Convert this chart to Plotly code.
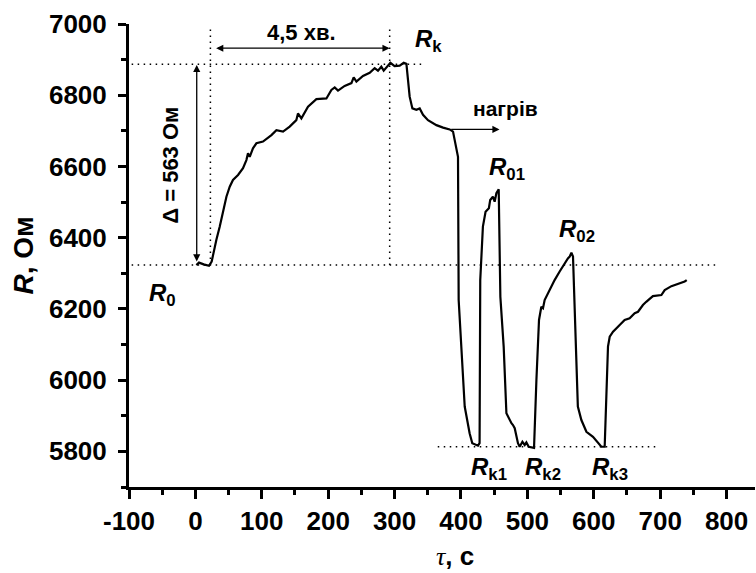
import plotly.graph_objects as go

# ---- data ----
tau = [1.5, 5.4, 12.5, 20.5, 24.5, 27.6, 31.6, 36.6, 40.7, 46.7, 51.7, 56.6, 64.2, 71.7, 76.8, 79.2, 81.8,
       86.7, 91.9, 101.8, 114.5, 122, 132, 142, 152, 154.5, 159.6, 169.6, 182.2, 197.3, 204.8, 209.8,
       214.8, 224.8, 235, 238.4, 242.5, 252.4, 262.5, 270, 275, 280, 283.6, 290, 293.7, 300, 307.7,
       313.7, 317.8, 320.2, 322.7, 326.8, 332.8, 337.8, 342.8, 350.3, 363, 373, 383, 388, 393, 395.5,
       396.5, 400.6, 405.6, 413, 417, 425.6, 428, 429, 433, 437, 442, 444, 448, 450.7, 453.3, 456.8,
       459.3, 464.3, 468.4, 476, 478.3, 480.9, 485.8, 488.4, 492.5, 496, 498.5, 502, 510, 513.6, 517.5,
       521, 523.5, 526, 531, 536, 541, 548.6, 556, 561, 563.7, 566.3, 568.7, 571, 576, 581.3, 588.9,
       598.8, 606.3, 611.4, 616.4, 621.4, 624, 629, 639, 646.5, 654, 661.6, 666.6, 674, 679, 689,
       701.8, 706.8, 716.9, 726.8, 736.9, 740]
resist = [6323, 6330, 6325, 6321, 6333, 6361, 6394, 6431, 6469, 6515, 6543, 6562, 6576, 6595, 6618, 6637,
          6627, 6651, 6665, 6670, 6688, 6702, 6698, 6712, 6730, 6749, 6735, 6768, 6789, 6791, 6815, 6822,
          6813, 6826, 6834, 6850, 6838, 6854, 6863, 6876, 6869, 6880, 6869, 6885, 6891, 6882, 6883,
          6891, 6888, 6843, 6796, 6763, 6759, 6763, 6745, 6730, 6716, 6709, 6704, 6698, 6656, 6627,
          6225, 6094, 5926, 5851, 5823, 5816, 5823, 6281, 6431, 6473, 6483, 6506, 6515, 6501, 6525, 6536,
          6234, 6094, 5907, 5879, 5874, 5865, 5823, 5813, 5827, 5818, 5825, 5813, 5810, 6001, 6169,
          6206, 6202, 6225, 6244, 6262, 6281, 6305, 6328, 6342, 6347, 6358, 6347, 6225, 5926, 5888, 5855,
          5841, 5823, 5813, 5813, 6094, 6122, 6136, 6155, 6169, 6174, 6188, 6192, 6211, 6220, 6236,
          6239, 6253, 6264, 6270, 6277, 6281]

x_ticks = [-100, 0, 100, 200, 300, 400, 500, 600, 700, 800]
x_tick_text = ["-100", "0", "100", "200", "300", "400", "500", "600", "700", "800"]
y_ticks = [5800, 6000, 6200, 6400, 6600, 6800, 7000]

# dotted guide lines
guide_x0 = [-96, -96, 22.6, 292.6, 365]
guide_x1 = [343, 789, 22.6, 292.6, 697]
guide_y0 = [6887, 6323, 6323, 6323, 5813]
guide_y1 = [6887, 6323, 6992, 6992, 5813]

# labels: text, tau, R
label_text = ["<i>R</i><sub>k</sub>", "<i>R</i><sub>0</sub>", "<i>R</i><sub>01</sub>", "<i>R</i><sub>02</sub>",
              "<i>R</i><sub>k1</sub>", "<i>R</i><sub>k2</sub>", "<i>R</i><sub>k3</sub>"]
label_tau = [327, -73, 439, 544, 411.6, 493, 594]
label_r = [6955, 6241, 6595, 6421, 5753, 5753, 5753]

FONT = "Arial, 'Liberation Sans', sans-serif"

fig = go.Figure()
fig.add_trace(go.Scatter(x=tau, y=resist, mode="lines",
                         line=dict(color="black", width=2.2), showlegend=False, hoverinfo="skip"))

shapes = []
for x0, x1, y0, y1 in zip(guide_x0, guide_x1, guide_y0, guide_y1):
    shapes.append(dict(type="line", xref="x", yref="y", x0=x0, x1=x1, y0=y0, y1=y1,
                       line=dict(color="black", width=1.5, dash="1.5px,4.5px")))

ann = []
for txt, tx, ry in zip(label_text, label_tau, label_r):
    ann.append(dict(x=tx, y=ry, xref="x", yref="y", text="<b>" + txt + "</b>", showarrow=False,
                    xanchor="left", yanchor="middle", font=dict(family=FONT, size=24, color="black")))

# arrows
ann.append(dict(x=292.5, y=6932, ax=29, ay=6932, xref="x", yref="y", axref="x", ayref="y", text="",
                showarrow=True, arrowhead=2, arrowside="end+start", arrowsize=1.1, arrowwidth=1.3,
                arrowcolor="black"))
ann.append(dict(x=2, y=6885, ax=2, ay=6329, xref="x", yref="y", axref="x", ayref="y", text="",
                showarrow=True, arrowhead=2, arrowside="end+start", arrowsize=1.1, arrowwidth=1.3,
                arrowcolor="black"))
ann.append(dict(x=458, y=6704, ax=383, ay=6704, xref="x", yref="y", axref="x", ayref="y", text="",
                showarrow=True, arrowhead=2, arrowside="end", arrowsize=1.1, arrowwidth=1.3,
                arrowcolor="black"))

ann.append(dict(x=159.6, y=6975, xref="x", yref="y", text="<b>4,5 хв.</b>", showarrow=False,
                xanchor="center", yanchor="middle", font=dict(family=FONT, size=22, color="black")))
ann.append(dict(x=467, y=6764, xref="x", yref="y", text="<b>нагрів</b>", showarrow=False,
                xanchor="center", yanchor="middle", font=dict(family=FONT, size=21, color="black")))
ann.append(dict(x=-38.7, y=6604, xref="x", yref="y", text="<b>Δ = 563 Ом</b>", showarrow=False,
                textangle=-90, xanchor="center", yanchor="middle",
                font=dict(family=FONT, size=22, color="black")))

# axis titles
ann.append(dict(x=(23 - 129) / 626, y=0.5, xref="paper", yref="paper", text="<b><i>R</i>, Ом</b>",
                showarrow=False, textangle=-90, xanchor="center", yanchor="middle",
                font=dict(family=FONT, size=28, color="black")))
ann.append(dict(x=(455 - 129) / 626, y=-(573 - 487) / 463, xref="paper", yref="paper",
                text="<span style=\"font-family:'Liberation Serif', 'Times New Roman', serif\"><i>τ</i></span><b>, с</b>",
                showarrow=False, xanchor="center", yanchor="bottom",
                font=dict(family=FONT, size=26, color="black")))

fig.update_layout(
    width=756, height=573,
    margin=dict(l=129, r=1, t=24, b=86, pad=0),
    paper_bgcolor="white", plot_bgcolor="white",
    shapes=shapes, annotations=ann,
    xaxis=dict(range=[-100, 842.8], tickvals=x_ticks, ticktext=x_tick_text, ticks="outside", ticklen=9,
               tickwidth=3, tickcolor="black", showline=True, linewidth=3, linecolor="black", showgrid=False,
               zeroline=False, tickfont=dict(family=FONT, size=26, color="black", weight="bold"),
               minor=dict(dtick=50, tick0=-100, ticks="outside", ticklen=5, tickwidth=3, tickcolor="black"),
               ticklabelstandoff=0),
    yaxis=dict(range=[5700, 7000], tickvals=y_ticks, ticks="outside", ticklen=8, tickwidth=3,
               tickcolor="black", showline=True, linewidth=3, linecolor="black", showgrid=False,
               zeroline=False, tickfont=dict(family=FONT, size=26, color="black", weight="bold"),
               minor=dict(dtick=100, tick0=5700, ticks="outside", ticklen=5, tickwidth=3, tickcolor="black"),
               ticklabelstandoff=6),
)

fig.write_html("out.html")
